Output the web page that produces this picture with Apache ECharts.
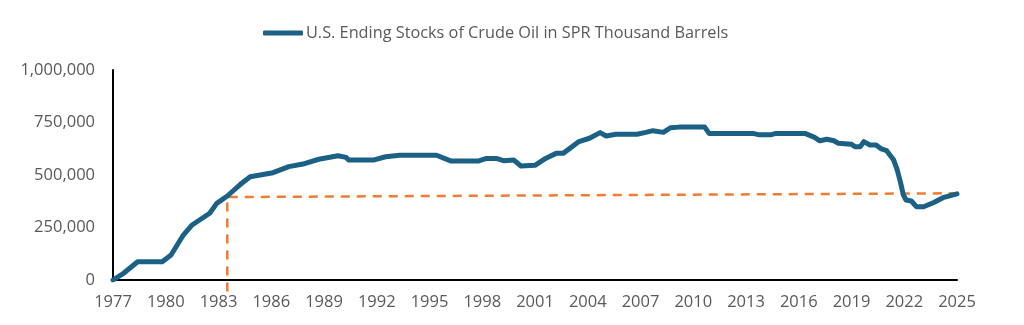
<!DOCTYPE html>
<html><head><meta charset="utf-8">
<script src="https://cdn.jsdelivr.net/npm/echarts@6/dist/echarts.min.js"></script>
<style>html,body{margin:0;padding:0;background:#fff}#c{width:1024px;height:325px}</style>
</head><body><div id="c"></div>
<script>
const seriesName = 'U.S. Ending Stocks of Crude Oil in SPR Thousand Barrels';
const years = [1977.0,1977.6,1978.4,1979.8,1980.3,1981.0,1981.5,1982.5,1982.9,1983.5,1984.2,1984.8,1986.1,1987.0,1987.8,1988.7,1989.8,1990.25,1990.4,1991.8,1992.5,1993.3,1995.4,1996.2,1997.8,1998.2,1998.8,1999.2,1999.8,2000.2,2001.0,2001.6,2002.2,2002.6,2003.5,2004.1,2004.7,2005.05,2005.6,2006.8,2007.3,2007.7,2008.3,2008.7,2009.2,2010.65,2010.9,2013.4,2013.7,2014.45,2014.7,2016.35,2016.9,2017.2,2017.6,2018.0,2018.25,2019.0,2019.2,2019.5,2019.7,2020.05,2020.4,2020.7,2021.0,2021.4,2021.6,2021.8,2021.95,2022.1,2022.4,2022.7,2023.1,2023.65,2024.2,2025.0];
const stocks = [0,32000,87000,87000,119000,214000,262000,318000,365000,400000,452000,492000,511000,540000,552000,575000,592000,584000,571000,571000,587000,594000,594000,567000,567000,578000,579000,568000,571000,543000,546000,579000,603000,603000,659000,675000,702000,686000,694000,694000,703000,711000,703000,725000,728000,728000,698000,698000,692000,692000,698000,698000,679000,663000,670000,663000,651000,646000,635000,635000,659000,643000,643000,624000,616000,571000,524000,460000,405000,381000,376000,349000,349000,368000,392000,410000];
const refYears = [1983.5, 1983.5, 2025.2];
const refValues = [-55000, 395000, 413000];
const yTicks = [0, 250000, 500000, 750000, 1000000];

const chart = echarts.init(document.getElementById('c'));
const font = '"Open Sans", sans-serif';
chart.setOption({
  animation: false,
  legend: {
    data: [{name: seriesName}],
    top: 20, left: 258,
    itemWidth: 40, itemHeight: 5, itemGap: 4,
    icon: 'roundRect',
    textStyle: {color: '#595959', fontSize: 16.3, fontFamily: font, padding: [0,0,0,-2]}
  },
  grid: {left: 113, right: 67, top: 70, bottom: 45},
  xAxis: {
    type: 'value', min: 1977, max: 2025, interval: 3,
    axisLine: {show: true, lineStyle: {color: '#000', width: 2}},
    axisTick: {show: false}, splitLine: {show: false},
    axisLabel: {color: '#595959', fontSize: 16.5, fontFamily: font, margin: 14, formatter: v => String(v)}
  },
  yAxis: {
    type: 'value', min: yTicks[0], max: yTicks[yTicks.length-1], interval: 250000,
    axisLine: {show: true, lineStyle: {color: '#000', width: 2}},
    axisTick: {show: false}, splitLine: {show: false},
    axisLabel: {color: '#595959', fontSize: 16.5, fontFamily: font, margin: 18,
      formatter: v => v.toLocaleString('en-US')}
  },
  series: [
    {
      name: seriesName, type: 'line', showSymbol: false, symbol: 'none',
      data: years.map((y, i) => [y, stocks[i]]),
      lineStyle: {color: '#1b6185', width: 5, cap: 'round', join: 'round'},
      itemStyle: {color: '#1b6185'}, z: 3
    },
    {
      name: 'ref', type: 'line', showSymbol: false, symbol: 'none', clip: false,
      data: refYears.map((y, i) => [y, refValues[i]]),
      lineStyle: {color: '#ED7D31', width: 2.5, type: [9, 7]},
      z: 2
    }
  ]
});
</script></body></html>
